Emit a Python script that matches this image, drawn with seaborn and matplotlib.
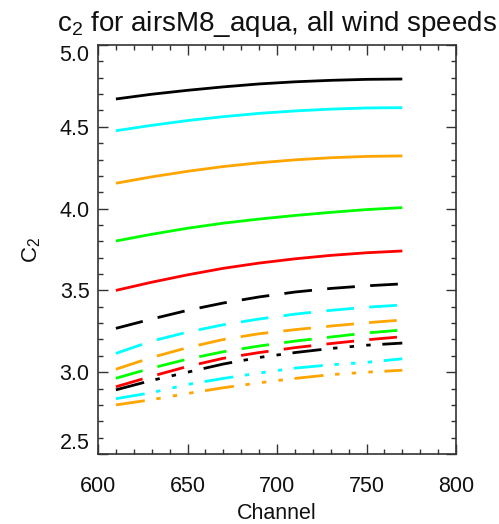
import numpy as np
import pandas as pd
import matplotlib
matplotlib.use("Agg")
import matplotlib.pyplot as plt
import seaborn as sns
from matplotlib.ticker import MultipleLocator

# Channel grid shared by every curve
channels = [610, 630, 650, 670, 690, 710, 730, 750, 770]

# Solid set
solid_black = [4.670, 4.699, 4.723, 4.744, 4.762, 4.775, 4.784, 4.790, 4.792]
solid_cyan = [4.476, 4.509, 4.538, 4.562, 4.582, 4.597, 4.608, 4.615, 4.617]
solid_orange = [4.155, 4.194, 4.228, 4.257, 4.280, 4.298, 4.311, 4.319, 4.322]
solid_green = [3.802, 3.843, 3.880, 3.911, 3.936, 3.958, 3.977, 3.994, 4.006]
solid_red = [3.500, 3.550, 3.595, 3.635, 3.667, 3.693, 3.714, 3.730, 3.741]

# Dashed set
dash_black = [3.268, 3.325, 3.378, 3.423, 3.460, 3.490, 3.512, 3.528, 3.540]
dash_cyan = [3.115, 3.190, 3.245, 3.290, 3.325, 3.355, 3.378, 3.397, 3.411]
dash_orange = [3.018, 3.090, 3.150, 3.200, 3.235, 3.260, 3.282, 3.302, 3.319]
dash_green = [2.963, 3.025, 3.080, 3.125, 3.160, 3.190, 3.215, 3.240, 3.258]
dash_red = [2.911, 2.975, 3.035, 3.085, 3.120, 3.150, 3.175, 3.198, 3.217]

# Dash-dot-dot-dot set
ddd_black = [2.892, 2.950, 3.000, 3.050, 3.090, 3.120, 3.145, 3.165, 3.178]
ddd_cyan = [2.838, 2.875, 2.925, 2.962, 2.995, 3.025, 3.045, 3.060, 3.082]
ddd_orange = [2.800, 2.832, 2.870, 2.905, 2.935, 2.962, 2.985, 3.000, 3.012]

series = [
    ("s1", "black", "solid", solid_black),
    ("s2", "cyan", "solid", solid_cyan),
    ("s3", "orange", "solid", solid_orange),
    ("s4", "green", "solid", solid_green),
    ("s5", "red", "solid", solid_red),
    ("s6", "black", "dash", dash_black),
    ("s7", "cyan", "dash", dash_cyan),
    ("s8", "orange", "dash", dash_orange),
    ("s9", "green", "dash", dash_green),
    ("s10", "red", "dash", dash_red),
    ("s11", "black", "ddd", ddd_black),
    ("s12", "cyan", "ddd", ddd_cyan),
    ("s13", "orange", "ddd", ddd_orange),
]

color_map = {"black": "#000000", "cyan": "#00FFFF", "orange": "#FFA500",
             "green": "#00FF00", "red": "#FF0000"}
dash_map = {"solid": "", "dash": (10.0, 5.5),
            "ddd": (10.5, 4.2, 1.6, 4.4, 1.6, 4.4, 1.6, 4.2)}

rows = []
for name, col, sty, vals in series:
    for c, v in zip(channels, vals):
        rows.append({"channel": c, "c2": v, "series": name, "color": col, "style": sty})
df = pd.DataFrame(rows)

sns.set_theme(style="ticks")
plt.rcParams["font.family"] = ["Liberation Sans", "DejaVu Sans"]
plt.rcParams["mathtext.default"] = "regular"

fig = plt.figure(figsize=(4.99, 5.24), dpi=100)
ax = fig.add_axes([98 / 499, 1 - 454 / 524, 358 / 499, 409 / 524])

for name, col, sty, vals in series:
    sub = df[df["series"] == name]
    sns.lineplot(data=sub, x="channel", y="c2", ax=ax, color=color_map[col],
                 lw=2.0, legend=False, estimator=None, sort=False)
    line = ax.get_lines()[-1]
    if dash_map[sty]:
        line.set_dashes(dash_map[sty])
    line.set_solid_capstyle("butt")
    line.set_dash_capstyle("butt")

ax.set_xlim(600, 800)
ax.set_ylim(2.5, 5.0)
ax.xaxis.set_major_locator(MultipleLocator(50))
ax.xaxis.set_minor_locator(MultipleLocator(10))
ax.yaxis.set_major_locator(MultipleLocator(0.5))
ax.yaxis.set_minor_locator(MultipleLocator(0.1))
ax.yaxis.set_major_formatter(matplotlib.ticker.FormatStrFormatter("%.1f"))

ax.tick_params(which="both", direction="in", top=True, right=True,
               color="#333333", width=1.0, labelcolor="#111111")
ax.tick_params(which="major", length=7)
ax.tick_params(which="minor", length=3.5)
ax.tick_params(axis="x", which="major", pad=16, labelsize=15.5)
ax.tick_params(axis="y", which="major", pad=6, labelsize=15.5)

for sp in ax.spines.values():
    sp.set_color("#333333")
    sp.set_linewidth(1.2)

ax.set_xlabel("Channel", fontsize=15.5, labelpad=4, color="#111111")
ax.set_ylabel("$C_2$", fontsize=16, labelpad=12, color="#111111")
ax.set_title("$c_2$ for airsM8_aqua, all wind speeds", fontsize=20, pad=10,
             color="#111111")

fig.canvas.draw()
for lab in ax.get_yticklabels():
    t = lab.get_text()
    if t == "5.0":
        lab.set_va("top")
    elif t == "2.5":
        lab.set_va("bottom")

fig.savefig("out.png", dpi=100)
